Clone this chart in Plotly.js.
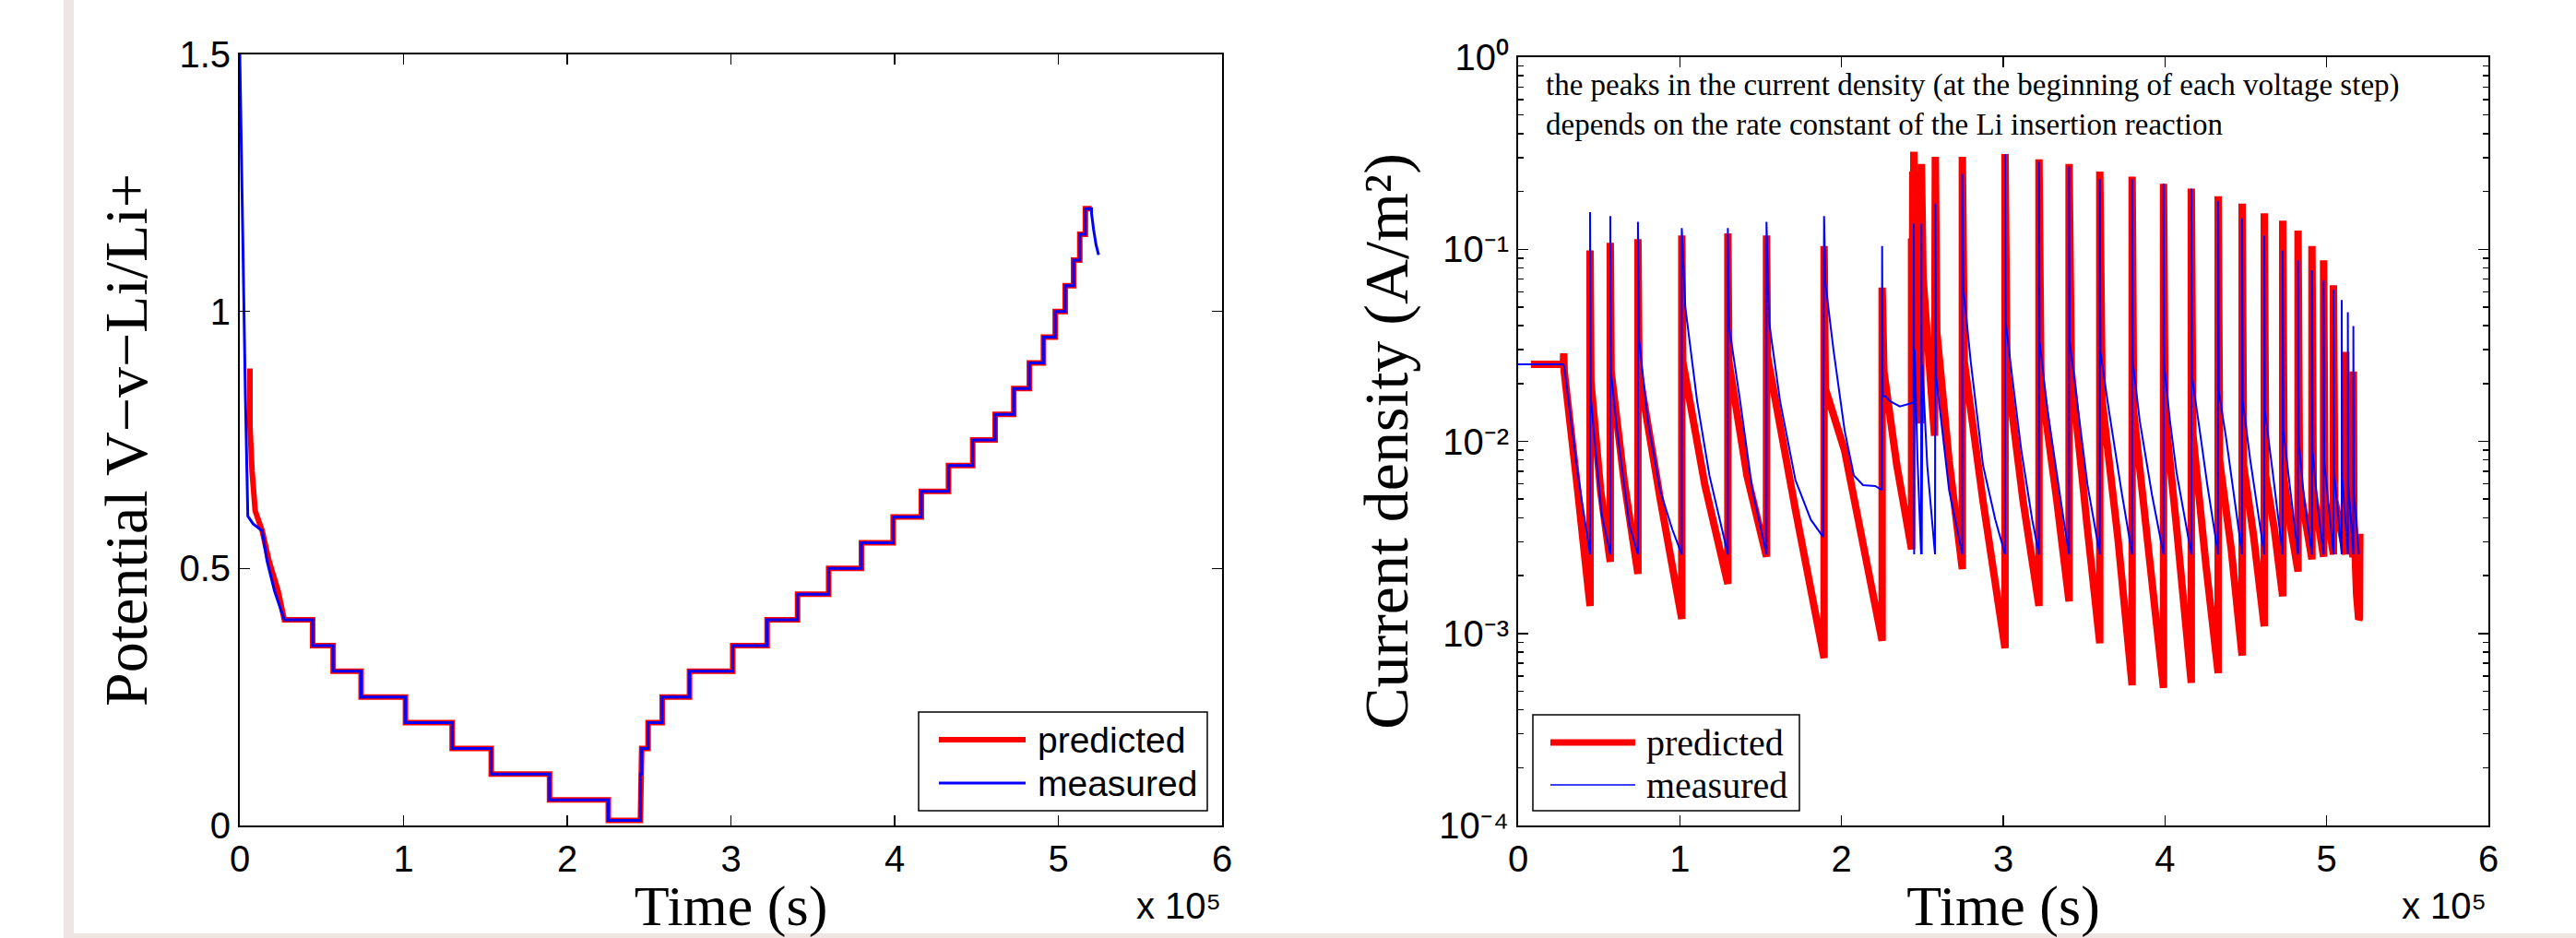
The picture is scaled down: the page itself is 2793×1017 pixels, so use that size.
<!DOCTYPE html>
<html><head><meta charset="utf-8">
<script src="https://cdn.plot.ly/plotly-3.0.1.min.js"></script>
<style>html,body{margin:0;padding:0;background:#fff;overflow:hidden;} #chart{width:2793px;height:1017px;}</style>
</head><body><div id="chart"></div>
<script>
// ===== DATA (time in units of 1e5 s) =====
// Potential steps (shared by predicted and measured)
const stepTimes  = [0.272, 0.445, 0.570, 0.741, 1.012, 1.297, 1.536, 1.892, 2.251, 2.447, 2.455, 2.494, 2.580, 2.747, 3.011, 3.221, 3.407, 3.597, 3.797, 3.991, 4.163, 4.329, 4.477, 4.614, 4.728, 4.823, 4.909, 4.981, 5.042, 5.093, 5.131, 5.165];
const stepLevels = [0.40, 0.35, 0.30, 0.25, 0.20, 0.15, 0.10, 0.05, 0.01, 0.10, 0.15, 0.20, 0.25, 0.30, 0.35, 0.40, 0.45, 0.50, 0.55, 0.60, 0.65, 0.70, 0.75, 0.80, 0.85, 0.90, 0.95, 1.00, 1.05, 1.10, 1.15, 1.20];
const stepsEndTime = 5.203;

// Predicted potential: initial galvanostatic part
const predPotInitT = [0.062, 0.062, 0.075, 0.094, 0.137, 0.178, 0.234, 0.272];
const predPotInitV = [0.889, 0.777, 0.689, 0.612, 0.573, 0.515, 0.456, 0.403];
// Measured potential: initial part and relaxation tail
const measPotInitT = [0, 0.015, 0.034, 0.049, 0.081, 0.137, 0.166, 0.212, 0.268];
const measPotInitV = [1.5, 1.195, 0.836, 0.602, 0.587, 0.573, 0.515, 0.456, 0.407];
const measPotTailT = [5.203, 5.215, 5.230, 5.246];
const measPotTailV = [1.19, 1.16, 1.13, 1.11];

// Predicted current density (A/m^2)
const predCurT = [
 0.08, 0.28, 0.282, 0.285, 0.365, 0.445,
 0.445, 0.45, 0.51, 0.570,
 0.570, 0.575, 0.655, 0.741,
 0.741, 0.747, 0.88, 1.012,
 1.012, 1.018, 1.155, 1.297,
 1.297, 1.303, 1.415, 1.536,
 1.536, 1.542, 1.715, 1.892,
 1.892, 1.90, 2.019, 2.251,
 2.251, 2.262, 2.342, 2.433,
 2.433, 2.437, 2.441, 2.444, 2.447, 2.455, 2.490,
 2.494, 2.504, 2.575,
 2.580, 2.589, 2.665, 2.747,
 2.747, 2.759, 2.874, 3.011,
 3.011, 3.023, 3.122, 3.221,
 3.221, 3.233, 3.331, 3.407,
 3.407, 3.421, 3.518, 3.597,
 3.597, 3.612, 3.71, 3.797,
 3.797, 3.806, 3.898, 3.991,
 3.991, 4.0, 4.072, 4.163,
 4.163, 4.172, 4.253, 4.329,
 4.329, 4.338, 4.41, 4.477,
 4.477, 4.486, 4.547, 4.614,
 4.614, 4.623, 4.677, 4.728,
 4.728, 4.737, 4.775, 4.823,
 4.823, 4.832, 4.909,
 4.909, 4.917, 4.981,
 4.981, 4.989, 5.042,
 5.042, 5.05, 5.118,
 5.118, 5.124, 5.163,
 5.165, 5.168, 5.185, 5.198, 5.203, 5.205];
const predCurJ = [
 0.0252, 0.0252, 0.0287, 0.0231, 0.0059, 0.00139,
 0.0986, 0.0205, 0.00557, 0.00236,
 0.108, 0.0231, 0.00628, 0.00204,
 0.113, 0.0231, 0.00495, 0.00119,
 0.118, 0.026, 0.00592, 0.00181,
 0.121, 0.026, 0.00665, 0.00251,
 0.118, 0.0276, 0.0044, 0.000745,
 0.104, 0.0188, 0.00895, 0.000916,
 0.0632, 0.0231, 0.0075, 0.00274,
 0.114, 0.02, 0.254, 0.03, 0.322, 0.053, 0.0124,
 0.278, 0.0711, 0.0107,
 0.303, 0.0371, 0.00794, 0.00216,
 0.303, 0.026, 0.00495, 0.000838,
 0.313, 0.0231, 0.00495, 0.00139,
 0.294, 0.0205, 0.00495, 0.00147,
 0.278, 0.0231, 0.00368, 0.000889,
 0.254, 0.0162, 0.00308, 0.000537,
 0.239, 0.0144, 0.00274, 0.000521,
 0.219, 0.0141, 0.00355, 0.000553,
 0.207, 0.011, 0.00229, 0.000622,
 0.189, 0.0079, 0.00274, 0.000766,
 0.173, 0.0075, 0.00327, 0.00109,
 0.154, 0.0066, 0.00347, 0.00156,
 0.141, 0.0063, 0.00368, 0.0021,
 0.125, 0.0059, 0.00243,
 0.104, 0.00557, 0.00251,
 0.0875, 0.00495, 0.00258,
 0.065, 0.00495, 0.00258,
 0.0292, 0.0045, 0.0025,
 0.0231, 0.004, 0.0016, 0.00118, 0.0012, 0.0033];

// Measured current density (A/m^2)
const measCurT = [
 0, 0.28, 0.285, 0.365, 0.445,
 0.445, 0.449, 0.479, 0.517, 0.570,
 0.570, 0.574, 0.612, 0.688, 0.741,
 0.741, 0.748, 0.802, 0.878, 0.954, 1.012,
 1.012, 1.034, 1.107, 1.183, 1.297,
 1.297, 1.305, 1.373, 1.449, 1.536,
 1.536, 1.552, 1.620, 1.715, 1.810, 1.886,
 1.892, 1.90, 1.95, 2.019, 2.076, 2.133, 2.209, 2.249,
 2.251, 2.255, 2.27, 2.30, 2.36, 2.42, 2.445,
 2.447, 2.449, 2.452, 2.47, 2.492,
 2.494, 2.496, 2.50, 2.53, 2.578,
 2.580, 2.585, 2.665, 2.747,
 2.747, 2.753, 2.799, 2.875, 2.951, 3.011,
 3.011, 3.015, 3.055, 3.112, 3.179, 3.221,
 3.221, 3.225, 3.274, 3.331, 3.378, 3.407,
 3.407, 3.411, 3.464, 3.521, 3.597,
 3.597, 3.601, 3.654, 3.730, 3.797,
 3.797, 3.801, 3.844, 3.920, 3.991,
 3.991, 3.995, 4.03, 4.072, 4.163,
 4.163, 4.167, 4.215, 4.262, 4.329,
 4.329, 4.333, 4.376, 4.433, 4.477,
 4.477, 4.481, 4.528, 4.576, 4.614,
 4.614, 4.618, 4.661, 4.728,
 4.728, 4.732, 4.775, 4.823,
 4.823, 4.827, 4.861, 4.909,
 4.909, 4.913, 4.943, 4.981,
 4.981, 4.985, 5.042,
 5.042, 5.045, 5.093,
 5.093, 5.096, 5.131,
 5.131, 5.134, 5.165,
 5.165, 5.168, 5.199];
const measCurJ = [
 0.0252, 0.0252, 0.0245, 0.0071, 0.00258,
 0.156, 0.0172, 0.00895, 0.00415, 0.00258,
 0.149, 0.0231, 0.0114, 0.00368, 0.00258,
 0.139, 0.034, 0.0128, 0.00557, 0.00347, 0.00258,
 0.129, 0.0499, 0.0162, 0.00665, 0.00258,
 0.129, 0.0394, 0.0162, 0.00557, 0.00258,
 0.139, 0.0418, 0.0162, 0.00628, 0.00391, 0.00318,
 0.149, 0.067, 0.03, 0.0114, 0.00665, 0.00592, 0.00585, 0.00557,
 0.104, 0.0172, 0.0172, 0.0162, 0.0152, 0.0157, 0.016,
 0.136, 0.00258, 0.03, 0.008, 0.00258,
 0.136, 0.00258, 0.025, 0.0075, 0.00258,
 0.173, 0.0218, 0.00557, 0.00258,
 0.247, 0.0632, 0.026, 0.0075, 0.00391, 0.00258,
 0.313, 0.0418, 0.0218, 0.00895, 0.00391, 0.00258,
 0.286, 0.033, 0.0144, 0.00665, 0.00368, 0.00258,
 0.270, 0.033, 0.0144, 0.00592, 0.00258,
 0.232, 0.0292, 0.0144, 0.00557, 0.00258,
 0.232, 0.026, 0.0128, 0.00525, 0.00258,
 0.219, 0.025, 0.013, 0.00685, 0.00258,
 0.207, 0.0218, 0.0114, 0.00592, 0.00258,
 0.178, 0.0182, 0.0107, 0.00495, 0.00258,
 0.145, 0.0162, 0.00794, 0.00415, 0.00258,
 0.118, 0.0144, 0.0075, 0.00258,
 0.0986, 0.0114, 0.00557, 0.00258,
 0.0875, 0.0101, 0.00495, 0.00258,
 0.0778, 0.00895, 0.0047, 0.00258,
 0.069, 0.0079, 0.00258,
 0.0614, 0.00706, 0.00258,
 0.0545, 0.0065, 0.00258,
 0.047, 0.006, 0.00258,
 0.0398, 0.0055, 0.00258];

// Axis tick labels
const timeTickVals = [0, 1, 2, 3, 4, 5, 6];
const timeTickText = ['0', '1', '2', '3', '4', '5', '6'];
const timeExponentText = 'x 10\u2075';
const potTickVals = [0, 0.5, 1, 1.5];
const potTickText = ['0', '0.5', '1', '1.5'];
const curTickVals = [1e-4, 1e-3, 1e-2, 1e-1, 1];
const curTickText = ['10\u207B\u2074', '10\u207B\u00B3', '10\u207B\u00B2', '10\u207B\u00B9', '10\u2070'];
const seriesNames = ['predicted', 'measured'];
const noteLines = ['the peaks in the current density (at the beginning of each voltage step)',
                   'depends on the rate constant of the Li insertion reaction'];

// ===== BUILD =====
const W = 2793, H = 1017;
const PX = p => p / W, PY = p => 1 - p / H;
const SEC = 1e5;

function stepped(initT, initV, tailT, tailV) {
  const x = initT.slice(), y = initV.slice();
  for (let i = 0; i < stepTimes.length; i++) {
    const t1 = i + 1 < stepTimes.length ? stepTimes[i + 1] : stepsEndTime;
    x.push(stepTimes[i], t1); y.push(stepLevels[i], stepLevels[i]);
  }
  for (let i = 0; i < tailT.length; i++) { x.push(tailT[i]); y.push(tailV[i]); }
  return { x: x.map(v => v * SEC), y };
}
const predPot = stepped(predPotInitT, predPotInitV, [], []);
const measPot = stepped(measPotInitT, measPotInitV, measPotTailT, measPotTailV);

const RED = '#ff0000', BLUE = '#0000ff';
const traces = [
  { x: predPot.x, y: predPot.y, xaxis: 'x', yaxis: 'y', mode: 'lines', name: seriesNames[0],
    line: { color: RED, width: 6 } },
  { x: measPot.x, y: measPot.y, xaxis: 'x', yaxis: 'y', mode: 'lines', name: seriesNames[1],
    line: { color: BLUE, width: 3 } },
  { x: predCurT.map(v => v * SEC), y: predCurJ, xaxis: 'x2', yaxis: 'y2', mode: 'lines', name: seriesNames[0],
    line: { color: RED, width: 8 } },
  { x: measCurT.map(v => v * SEC), y: measCurJ, xaxis: 'x2', yaxis: 'y2', mode: 'lines', name: seriesNames[1],
    line: { color: BLUE, width: 2 } }
];

const sans = 'Liberation Sans, Arial, Helvetica, sans-serif';
const serif = 'Liberation Serif, Times New Roman, Times, serif';
const tickFont = { family: sans, size: 40, color: '#000' };

const minorVals = [];
for (let e = -4; e < 0; e++) for (let m = 2; m <= 9; m++) minorVals.push(m * Math.pow(10, e));

const baseAxis = {
  showline: true, linecolor: '#000', linewidth: 2, mirror: 'allticks',
  ticks: 'inside', ticklen: 11, tickwidth: 1.5, tickcolor: '#000',
  showgrid: false, zeroline: false, tickfont: tickFont, fixedrange: true
};
const xDomL = [PX(260), PX(1325)], xDomR = [PX(1646), PX(2698)];
const yDomL = [PY(895), PY(59)], yDomR = [PY(895), PY(62)];

const layout = {
  width: W, height: H, margin: { l: 0, r: 0, t: 0, b: 0 },
  paper_bgcolor: '#ffffff', plot_bgcolor: '#ffffff', showlegend: false,
  xaxis: Object.assign({}, baseAxis, { domain: xDomL, anchor: 'y', range: [0, 6 * SEC],
    tickmode: 'array', tickvals: timeTickVals.map(v => v * SEC), ticktext: timeTickText,
    title: { text: 'Time (s)', font: { family: serif, size: 62, color: '#000' }, standoff: 4 } }),
  yaxis: Object.assign({}, baseAxis, { domain: yDomL, anchor: 'x', range: [0, 1.5],
    tickmode: 'array', tickvals: potTickVals, ticktext: potTickText,
    title: { text: 'Potential V\u2212v\u2212Li/Li+', font: { family: serif, size: 66, color: '#000' }, standoff: 13 } }),
  xaxis2: Object.assign({}, baseAxis, { domain: xDomR, anchor: 'y2', range: [0, 6 * SEC],
    tickmode: 'array', tickvals: timeTickVals.map(v => v * SEC), ticktext: timeTickText,
    title: { text: 'Time (s)', font: { family: serif, size: 62, color: '#000' }, standoff: 4 } }),
  yaxis2: Object.assign({}, baseAxis, { domain: yDomR, anchor: 'x2', type: 'log', range: [-4, 0],
    tickmode: 'array', tickvals: curTickVals, ticktext: curTickText,
    minor: { ticks: 'inside', ticklen: 6, tickwidth: 1.5, tickcolor: '#000', tickmode: 'array', tickvals: minorVals, showgrid: false },
    title: { text: 'Current density (A/m\u00B2)', font: { family: serif, size: 68, color: '#000' }, standoff: 12 } }),
  shapes: [
    // page border strips
    { type: 'rect', xref: 'paper', yref: 'paper', x0: PX(69), x1: PX(80), y0: PY(1017), y1: PY(0), fillcolor: '#eee6e3', line: { width: 0 }, layer: 'below' },
    { type: 'rect', xref: 'paper', yref: 'paper', x0: PX(69), x1: PX(2793), y0: PY(1017), y1: PY(1012), fillcolor: '#eee6e3', line: { width: 0 }, layer: 'below' },
    // left legend
    { type: 'rect', xref: 'paper', yref: 'paper', x0: PX(996), x1: PX(1309), y0: PY(879), y1: PY(772), fillcolor: '#ffffff', line: { color: '#000', width: 1.5 }, layer: 'above' },
    { type: 'line', xref: 'paper', yref: 'paper', x0: PX(1018), x1: PX(1112), y0: PY(802), y1: PY(802), line: { color: RED, width: 6 }, layer: 'above' },
    { type: 'line', xref: 'paper', yref: 'paper', x0: PX(1018), x1: PX(1112), y0: PY(849), y1: PY(849), line: { color: BLUE, width: 3 }, layer: 'above' },
    // right legend
    { type: 'rect', xref: 'paper', yref: 'paper', x0: PX(1662), x1: PX(1951), y0: PY(879), y1: PY(775), fillcolor: '#ffffff', line: { color: '#000', width: 1.5 }, layer: 'above' },
    { type: 'line', xref: 'paper', yref: 'paper', x0: PX(1681), x1: PX(1773), y0: PY(805), y1: PY(805), line: { color: RED, width: 7 }, layer: 'above' },
    { type: 'line', xref: 'paper', yref: 'paper', x0: PX(1681), x1: PX(1773), y0: PY(851), y1: PY(851), line: { color: BLUE, width: 1.5 }, layer: 'above' }
  ],
  annotations: [
    { xref: 'paper', yref: 'paper', x: PX(1326), y: PY(1006), xanchor: 'right', yanchor: 'bottom', showarrow: false,
      text: timeExponentText, font: { family: sans, size: 40, color: '#000' } },
    { xref: 'paper', yref: 'paper', x: PX(2698), y: PY(1006), xanchor: 'right', yanchor: 'bottom', showarrow: false,
      text: timeExponentText, font: { family: sans, size: 40, color: '#000' } },
    { xref: 'paper', yref: 'paper', x: PX(1674), y: PY(72), xanchor: 'left', yanchor: 'top', showarrow: false, align: 'left',
      text: noteLines.join('<br>'), font: { family: serif, size: 33, color: '#000' } },
    { xref: 'paper', yref: 'paper', x: PX(1123), y: PY(802), xanchor: 'left', yanchor: 'middle', showarrow: false,
      text: seriesNames[0], font: { family: sans, size: 39, color: '#000' } },
    { xref: 'paper', yref: 'paper', x: PX(1123), y: PY(849), xanchor: 'left', yanchor: 'middle', showarrow: false,
      text: seriesNames[1], font: { family: sans, size: 39, color: '#000' } },
    { xref: 'paper', yref: 'paper', x: PX(1783), y: PY(805), xanchor: 'left', yanchor: 'middle', showarrow: false,
      text: seriesNames[0], font: { family: serif, size: 40, color: '#000' } },
    { xref: 'paper', yref: 'paper', x: PX(1783), y: PY(851), xanchor: 'left', yanchor: 'middle', showarrow: false,
      text: seriesNames[1], font: { family: serif, size: 40, color: '#000' } }
  ]
};

Plotly.newPlot('chart', traces, layout, { staticPlot: true, displayModeBar: false });
</script></body></html>
